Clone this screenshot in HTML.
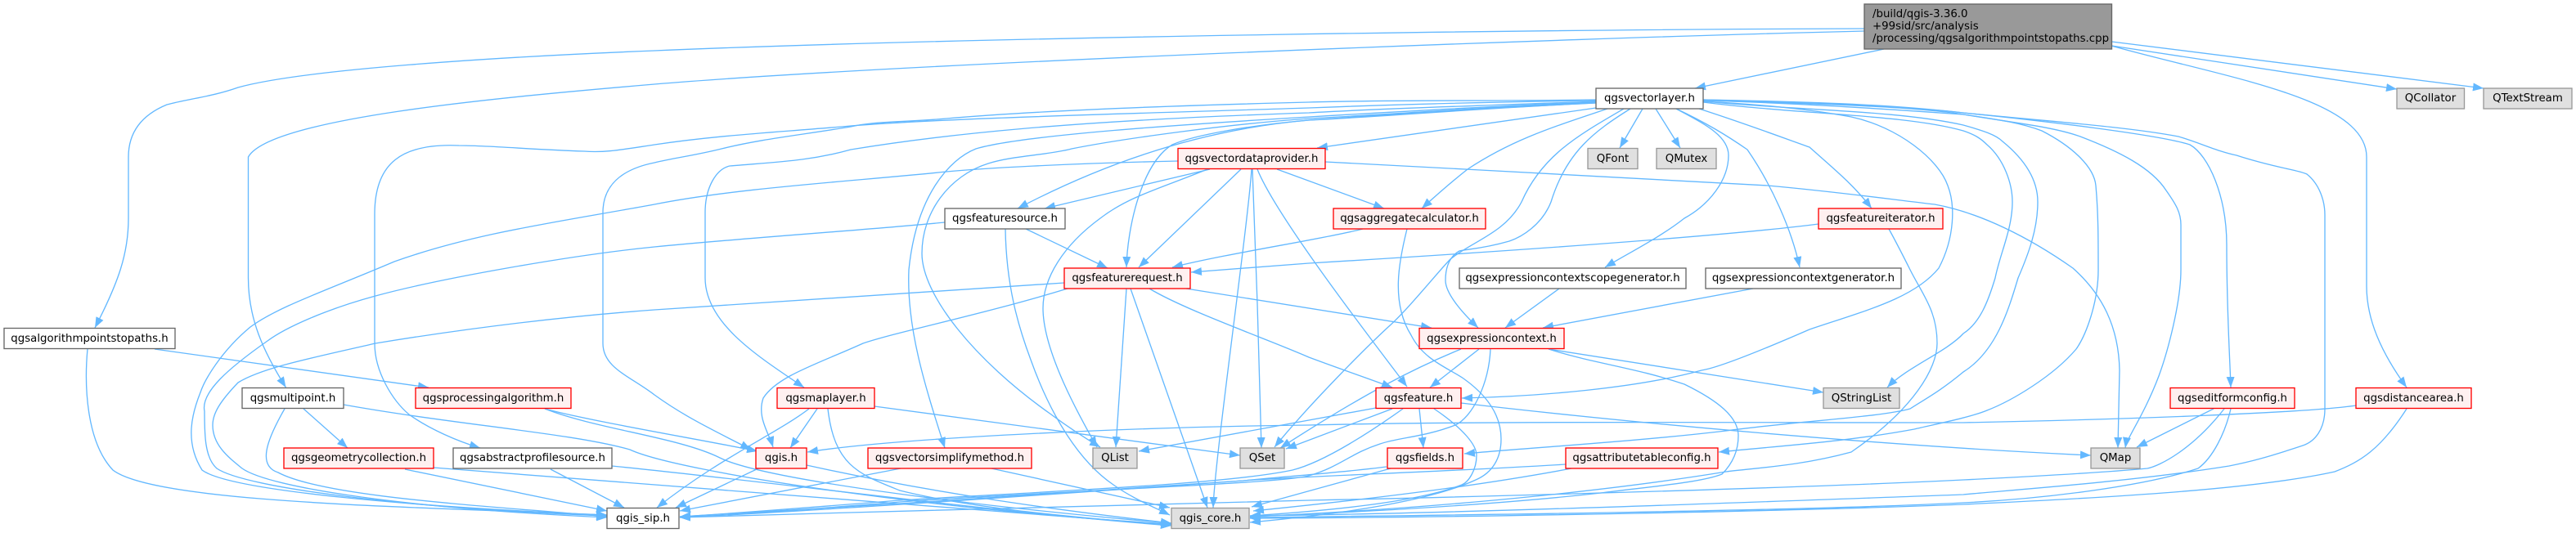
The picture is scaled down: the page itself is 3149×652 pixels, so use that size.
<!DOCTYPE html>
<html><head><meta charset="utf-8"><style>
html,body{margin:0;padding:0;background:#fff}
svg{display:block}
.e path{fill:none;stroke:#63b8ff;stroke-width:1.33;marker-end:url(#a)}
text{font-family:"DejaVu Sans","Liberation Sans",sans-serif;font-size:13.33px;fill:#000;text-anchor:middle}
.r{fill:#fff0f0;stroke:#f00;stroke-width:1.33}
.w{fill:#fff;stroke:#666;stroke-width:1.33}
.g{fill:#e0e0e0;stroke:#999;stroke-width:1.33}
</style></head><body>
<svg width="3149" height="652" viewBox="0 0 3149 652" xmlns="http://www.w3.org/2000/svg">
<defs><marker id="a" markerUnits="userSpaceOnUse" markerWidth="15" markerHeight="12" refX="13" refY="5" orient="auto"><path d="M0 0L13 5L0 10z" fill="#63b8ff"/></marker></defs>
<g class="e">
<path d="M2279 35C1900 36 1200 45 800 62C600 70 370 85 291 107C260 118 235 120 204 128C170 142 157 165 157 192L157 267C157 310 145 345 116 401"/>
<path d="M2279 38C1900 47 1100 78 800 103C600 120 330 145 303.5 192L303.5 340C303.5 390 322 430 349.5 474"/>
<path d="M2303 60L2072 108"/>
<path d="M2581.5 56L2930 109"/>
<path d="M2581.5 51L3036 108"/>
<path d="M2581 56C2720 95 2893 120 2893 192L2893 350C2893 390 2910 430 2942 474"/>
<path d="M107 427C103 470 105 540 138 575C190 615 500 620 742 630"/>
<path d="M189 427L524 474"/>
<path d="M666 500C720 515 870 540 926 552"/>
<path d="M666 500C730 525 830 535 880 560C940 590 1250 625 1432 640"/>
<path d="M348 500C325 540 315 570 340 578C400 610 620 620 742 632"/>
<path d="M371 500L425 548"/>
<path d="M420 495C560 520 700 530 770 550C830 578 1150 625 1432 641"/>
<path d="M495 574L742 625"/>
<path d="M530 572C700 585 1000 610 1432 642"/>
<path d="M673 574L763 621"/>
<path d="M748 570C950 590 1200 625 1432 643"/>
<path d="M927 573L826 621"/>
<path d="M986 569C1150 605 1300 625 1432 640"/>
<path d="M1069 497L1516 557"/>
<path d="M999 500L966 548"/>
<path d="M989 500C950 530 880 560 803 621"/>
<path d="M1012 500C1020 570 1050 580 1100 600C1200 625 1350 635 1432 643"/>
<path d="M1101 573L831 625"/>
<path d="M1212 573L1430 621"/>
<path d="M1951 122C1800 124 1700 122 1600 125C1400 130 1250 137 1157 145C1100 150 1070 148 1040 155C980 165 930 170 882 182C850 190 825 193 800 199C770 205 737 220 737 260L737 420C737 450 770 460 800 483C840 512 880 530 918 550"/>
<path d="M1951 123C1800 125 1700 128 1600 132C1350 140 1150 145 1040 154C950 162 880 165 800 177C760 183 740 187 714 185C650 183 600 178 561 178C490 175 458 200 458 262L458 420C458 455 480 490 500 507C525 525 560 540 587 548"/>
<path d="M1951 124C1800 130 1700 132 1600 138C1300 148 1150 165 1040 183C990 197 950 198 892 203C875 207 862 230 862 260L862 340C862 395 925 435 983 474"/>
<path d="M1951 125C1820 130 1700 137 1600 143C1450 152 1250 165 1193 182C1160 195 1120 240 1111 330C1108 400 1130 470 1155 548"/>
<path d="M1951 125C1800 132 1700 140 1600 145C1500 152 1370 170 1310 182C1280 190 1240 190 1208 200C1160 215 1127 260 1127 310C1127 360 1190 440 1285 507C1305 522 1325 535 1345 547"/>
<path d="M1951 126C1800 133 1700 140 1600 147C1450 160 1330 210 1244 255"/>
<path d="M1951 126C1800 133 1700 142 1600 147C1530 153 1460 165 1433 177C1395 200 1378 280 1377 327"/>
<path d="M1440 197C1300 200 1200 206 1157 210C1040 222 900 230 800 250C680 272 580 285 482 320C400 355 340 375 306 400C270 430 250 465 245 480C235 505 225 540 247 575C280 600 500 620 742 630"/>
<path d="M1155 272C1050 282 900 292 800 302C700 312 540 340 459 362C400 378 350 400 327 417C280 450 245 480 250 503C250 530 250 560 265 573C300 597 500 622 742 631"/>
<path d="M1301 346C1100 360 950 370 800 379C650 390 520 410 459 420C380 438 320 450 291 468C270 490 260 505 260 520C260 545 280 560 296 573C330 597 500 622 742 633"/>
<path d="M1479 207L1277 255"/>
<path d="M1476 207C1420 230 1380 240 1345 267C1300 300 1275 340 1275 377C1275 430 1320 510 1341 547"/>
<path d="M1517 207L1392 327"/>
<path d="M1530 207C1525 280 1485 560 1483 621"/>
<path d="M1531 207C1535 300 1540 460 1542 548"/>
<path d="M1537 207C1560 265 1680 420 1720 473"/>
<path d="M1561 207L1692 255"/>
<path d="M1620 198C1800 208 2000 217 2161 227C2250 235 2320 245 2365 250C2420 260 2480 290 2534 328C2570 360 2590 400 2591 453L2589 548"/>
<path d="M1666 280C1620 292 1500 310 1433 327"/>
<path d="M1720 280C1710 320 1700 370 1725 410C1740 440 1770 450 1789 463C1820 485 1835 510 1835 537C1835 560 1825 578 1804 587C1750 612 1650 628 1528 639"/>
<path d="M1965 133C1900 155 1850 170 1794 207C1775 222 1760 235 1738 255"/>
<path d="M1951 132L1610 181"/>
<path d="M2008 133L1980 181"/>
<path d="M2024 133L2054 181"/>
<path d="M1993 133C1950 160 1915 185 1896 247C1885 275 1860 290 1845 295C1810 305 1790 305 1784 307C1770 315 1767 330 1767 343C1767 360 1790 385 1807 401"/>
<path d="M1985 133C1930 165 1885 190 1860 247C1840 285 1800 295 1773 317C1760 330 1720 380 1697 400C1670 425 1600 495 1558 547"/>
<path d="M1786 427C1730 450 1670 480 1565 548"/>
<path d="M1682 499L1392 552"/>
<path d="M1702 500L1572 549"/>
<path d="M1715 500C1680 525 1620 565 1580 575C1500 592 1300 600 1100 612C1000 620 900 628 831 632"/>
<path d="M1695 571C1640 578 1580 582 1520 588C1350 600 1050 620 831 632"/>
<path d="M1914 568C1750 578 1600 582 1520 588C1350 600 1050 622 831 633"/>
<path d="M1822 427C1820 470 1800 510 1779 520C1740 535 1710 535 1687 543C1650 555 1640 570 1600 582C1560 592 1300 600 1100 614C1000 622 900 630 831 633"/>
<path d="M2719 500C2680 550 2640 570 2625 573C2550 580 2400 587 2400 587C2200 597 1800 608 1600 612C1400 617 1100 625 831 633"/>
<path d="M1700 573C1640 590 1590 603 1530 620"/>
<path d="M1921 573C1820 592 1700 608 1532 625"/>
<path d="M1753 500C1790 525 1805 545 1805 557C1805 575 1795 590 1787 593C1730 615 1620 625 1528 631"/>
<path d="M1893 427C1950 445 2000 450 2059 470C2100 490 2125 510 2125 533C2125 555 2115 570 2105 580C2080 590 2020 595 1957 603C1850 615 1700 625 1528 632"/>
<path d="M2309 280C2320 300 2330 320 2335 330C2350 360 2368 380 2368 420C2368 450 2340 500 2263 553C2200 570 2150 572 2110 577C2000 595 1800 620 1528 632"/>
<path d="M2727 500C2720 530 2705 560 2687 573C2620 595 2500 610 2400 615C2200 625 1800 630 1528 633"/>
<path d="M2082 122C2250 125 2330 130 2400 138C2500 148 2600 155 2663 167C2690 175 2710 185 2734 190C2780 205 2810 208 2820 213C2835 225 2842 245 2842 263L2842 500C2842 525 2830 540 2815 545C2770 560 2750 565 2725 570C2600 590 2450 600 2400 605C2200 612 1800 628 1528 631"/>
<path d="M2942 500C2910 550 2885 565 2854 577C2750 600 2550 610 2400 617C2200 625 1800 633 1528 634"/>
<path d="M2880 496C2820 505 2600 513 2400 517C2100 517 1800 515 1600 520C1400 522 1100 535 987 553"/>
<path d="M2082 122C2200 125 2330 130 2400 138C2500 148 2640 165 2677 177C2700 190 2722 240 2722 300C2722 380 2726 440 2727 474"/>
<path d="M2082 123C2200 126 2330 135 2400 140C2460 150 2510 155 2543 167C2590 185 2630 205 2648 233C2660 250 2666 260 2666 275L2666 330C2666 370 2650 430 2639 460C2620 510 2600 535 2598 548"/>
<path d="M2082 123C2200 126 2340 130 2400 140C2440 146 2470 150 2496 160C2535 180 2560 205 2562 227C2565 260 2565 290 2565 330C2565 370 2550 410 2538 427C2510 460 2460 490 2429 502C2410 510 2370 518 2340 525C2260 540 2180 545 2101 553"/>
<path d="M2082 124C2200 135 2320 135 2400 153C2425 160 2440 165 2448 173C2475 195 2491 220 2491 247C2491 280 2480 310 2467 340C2455 380 2440 430 2400 455C2370 480 2350 490 2335 500C2300 510 2200 515 2110 527C2000 540 1880 547 1790 555"/>
<path d="M2082 125C2200 140 2330 140 2400 160C2415 165 2422 170 2429 177C2450 195 2460 225 2460 247C2460 280 2445 310 2439 340C2430 370 2420 395 2400 408C2380 430 2330 450 2307 474"/>
<path d="M2082 124C2160 128 2220 135 2263 143C2320 155 2370 195 2381 227C2390 250 2390 290 2370 328C2340 365 2280 380 2212 403C2150 430 2100 450 2080 453C2000 475 1880 485 1787 487"/>
<path d="M2077 133C2130 150 2170 165 2212 180C2240 205 2265 225 2288 255"/>
<path d="M2049 133C2085 150 2110 165 2136 183C2165 225 2190 280 2200 327"/>
<path d="M2049 133C2080 150 2113 165 2113 190C2113 220 2090 250 2059 267C2030 290 1990 310 1962 327"/>
<path d="M2223 274C2100 290 1800 310 1600 322L1456 333"/>
<path d="M1305 353C1200 385 1100 405 1055 420C1000 445 950 460 933 487C925 510 940 530 945 547"/>
<path d="M1377 353L1364 547"/>
<path d="M1382 353L1476 621"/>
<path d="M1405 353C1450 380 1550 415 1600 437C1640 452 1670 462 1702 474"/>
<path d="M1450 353L1750 401"/>
<path d="M1906 353L1840 401"/>
<path d="M2143 353L1886 401"/>
<path d="M1808 427L1748 474"/>
<path d="M1893 427L2229 480"/>
<path d="M1735 500L1740 548"/>
<path d="M1786 493C2000 518 2300 545 2556 557"/>
<path d="M1254 280L1354 328"/>
<path d="M1229 280C1230 350 1245 400 1260 440C1285 510 1320 565 1361 593C1385 610 1410 620 1430 630"/>
<path d="M2719 500L2620 548" style="display:none"/>
<path d="M2706 500L2612 547"/>
</g>
<g>
<rect class="w" x="2279" y="5" width="302.5" height="55" style="fill:#999;stroke:#666"/>
<text x="2289" y="21" style="text-anchor:start">/build/qgis-3.36.0</text>
<text x="2289" y="36" style="text-anchor:start">+99sid/src/analysis</text>
<text x="2289" y="51" style="text-anchor:start">/processing/qgsalgorithmpointstopaths.cpp</text>
<rect class="w" x="1951" y="108" width="131" height="25"/><text x="2016.5" y="124">qgsvectorlayer.h</text>
<rect class="g" x="2930" y="108" width="82.5" height="25"/><text x="2971" y="124">QCollator</text>
<rect class="g" x="3036" y="108" width="108" height="25"/><text x="3090" y="124">QTextStream</text>
<rect class="r" x="1440" y="181.5" width="180" height="25"/><text x="1530" y="198">qgsvectordataprovider.h</text>
<rect class="g" x="1941" y="181.5" width="61" height="25"/><text x="1971.5" y="198">QFont</text>
<rect class="g" x="2025" y="181.5" width="73" height="25"/><text x="2061.5" y="198">QMutex</text>
<rect class="w" x="1155" y="255" width="147" height="25"/><text x="1228.5" y="271">qgsfeaturesource.h</text>
<rect class="r" x="1630" y="255" width="186" height="25"/><text x="1723" y="271">qgsaggregatecalculator.h</text>
<rect class="r" x="2223" y="255" width="152" height="25"/><text x="2299" y="271">qgsfeatureiterator.h</text>
<rect class="r" x="1301" y="328" width="154" height="25"/><text x="1378" y="344">qgsfeaturerequest.h</text>
<rect class="w" x="1784" y="328" width="277" height="25"/><text x="1922.5" y="344">qgsexpressioncontextscopegenerator.h</text>
<rect class="w" x="2085" y="328" width="239" height="25"/><text x="2204.5" y="344">qgsexpressioncontextgenerator.h</text>
<rect class="w" x="5" y="401.5" width="209" height="25"/><text x="109.5" y="418">qgsalgorithmpointstopaths.h</text>
<rect class="r" x="1735" y="401.5" width="177" height="25"/><text x="1823.5" y="418">qgsexpressioncontext.h</text>
<rect class="w" x="296" y="474.5" width="124" height="25"/><text x="358" y="491">qgsmultipoint.h</text>
<rect class="r" x="508" y="474.5" width="190" height="25"/><text x="603" y="491">qgsprocessingalgorithm.h</text>
<rect class="r" x="950" y="474.5" width="119" height="25"/><text x="1009.5" y="491">qgsmaplayer.h</text>
<rect class="r" x="1682" y="474.5" width="104" height="25"/><text x="1734" y="491">qgsfeature.h</text>
<rect class="g" x="2229" y="474.5" width="93" height="25"/><text x="2275.5" y="491">QStringList</text>
<rect class="r" x="2653" y="474.5" width="152" height="25"/><text x="2729" y="491">qgseditformconfig.h</text>
<rect class="r" x="2880" y="474.5" width="141" height="25"/><text x="2950.5" y="491">qgsdistancearea.h</text>
<rect class="r" x="347" y="548" width="183" height="25"/><text x="438.5" y="564">qgsgeometrycollection.h</text>
<rect class="w" x="554" y="548" width="194" height="25"/><text x="651" y="564">qgsabstractprofilesource.h</text>
<rect class="r" x="924" y="548" width="62" height="25"/><text x="955" y="564">qgis.h</text>
<rect class="r" x="1061" y="548" width="200" height="25"/><text x="1161" y="564">qgsvectorsimplifymethod.h</text>
<rect class="g" x="1336" y="548" width="54" height="25"/><text x="1363" y="564">QList</text>
<rect class="g" x="1516" y="548" width="54" height="25"/><text x="1543" y="564">QSet</text>
<rect class="r" x="1696" y="548" width="92" height="25"/><text x="1742" y="564">qgsfields.h</text>
<rect class="r" x="1914" y="548" width="186" height="25"/><text x="2007" y="564">qgsattributetableconfig.h</text>
<rect class="g" x="2556" y="548" width="60" height="25"/><text x="2586" y="564">QMap</text>
<rect class="w" x="742" y="621.5" width="88" height="25"/><text x="786" y="638">qgis_sip.h</text>
<rect class="g" x="1432" y="621.5" width="95" height="25"/><text x="1479.5" y="638">qgis_core.h</text>
</g>
</svg>
</body></html>
